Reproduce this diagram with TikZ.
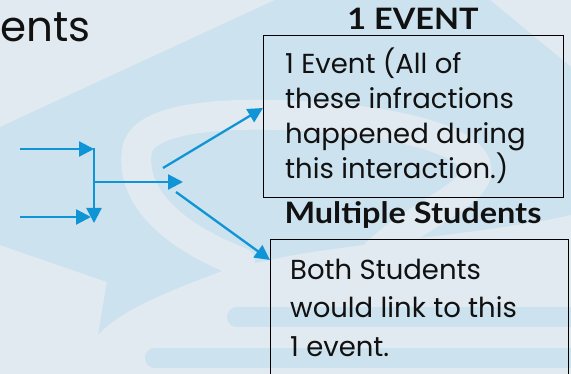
\documentclass[tikz,border=0pt]{standalone}
\usepackage{fontspec}
\setmainfont{Poppins}
\newfontfamily\titlefont[FakeStretch=1.1]{Lato}
\usetikzlibrary{arrows.meta}
\definecolor{bglight}{HTML}{E1E9F1}
\definecolor{bgdark}{HTML}{CCE2EE}
\definecolor{arrblue}{HTML}{0F95D6}
\definecolor{txt}{HTML}{111111}
\tikzset{
  conn/.style={draw=arrblue, line width=2.3pt, -{Triangle[length=15pt,width=15pt]}},
  box/.style={draw=black, line width=1.4pt, inner sep=0pt, anchor=north west},
  body/.style={anchor=base west, inner sep=0pt, font=\fontsize{27.5}{32}\selectfont, text=txt},
  head/.style={anchor=base, inner sep=0pt, font=\titlefont\bfseries\fontsize{29.5}{34}\selectfont, text=txt},
}
\begin{document}
\begin{tikzpicture}[x=1pt,y=-1pt]
\useasboundingbox (0,0) rectangle (571,374);
% background watermark
\fill[bglight] (0,0) rectangle (571,374);
\fill[bgdark] (0,127) -- (275,0) -- (490,0) -- (571,67) -- (571,215)
  .. controls (480,235) and (330,245) .. (270,260) -- (233,267)
  .. controls (170,290) and (120,310) .. (98,335) -- (107,282) -- (0,245) -- cycle;
\draw[bglight, line width=30pt, line cap=round]
  (240,262) .. controls (170,235) and (130,195) .. (137,150)
  .. controls (145,110) and (260,112) .. (330,118)
  .. controls (420,125) and (500,150) .. (470,185)
  .. controls (440,215) and (380,230) .. (340,300);
\draw[bgdark, line width=20pt, line cap=round] (237,317) -- (571,317);
\draw[bgdark, line width=20pt, line cap=round] (155,358) -- (571,358);
% title fragment
\node[anchor=base west, inner sep=0pt, font=\fontsize{42}{48}\selectfont, text=txt] (ttl) at (0,42) {ents};
% boxes
\node[box, minimum width=300pt, minimum height=162pt] (ev) at (263,35) {};
\node[box, minimum width=298pt, minimum height=150pt] (ms) at (270,239) {};
\node[head] (evh) at (413,30) {1 EVENT};
\node[head] (msh) at (413,224) {Multiple Students};
\node[body] (e1) at (285,74) {1 Event (All of};
\node[body] (e2) at (285,109) {these infractions};
\node[body] (e3) at (285,144) {happened during};
\node[body] (e4) at (285,179) {this interaction.)};
\node[body] (m1) at (290,280) {Both Students};
\node[body] (m2) at (290,318) {would link to this};
\node[body] (m3) at (290,357) {1 event.};
% connectors
\coordinate (s1) at (20,149);
\coordinate (j1) at (94,149);
\coordinate (s2) at (20,217);
\coordinate (t2) at (91,217);
\coordinate (j0) at (94,147.85);
\coordinate (j2) at (94,223);
\coordinate (jm) at (94,182);
\coordinate (mid) at (183,182);
\coordinate (u0) at (163,168);
\coordinate (u1) at (263,108);
\coordinate (d0) at (176,192);
\coordinate (d1) at (270,260);
\draw[conn] (s1) -- (j1);
\draw[conn] (s2) -- (t2);
\draw[conn] (j0) -- (j2);
\draw[conn] (jm) -- (mid);
\draw[conn] (u0) -- (u1);
\draw[conn] (d0) -- (d1);
\end{tikzpicture}
\end{document}
